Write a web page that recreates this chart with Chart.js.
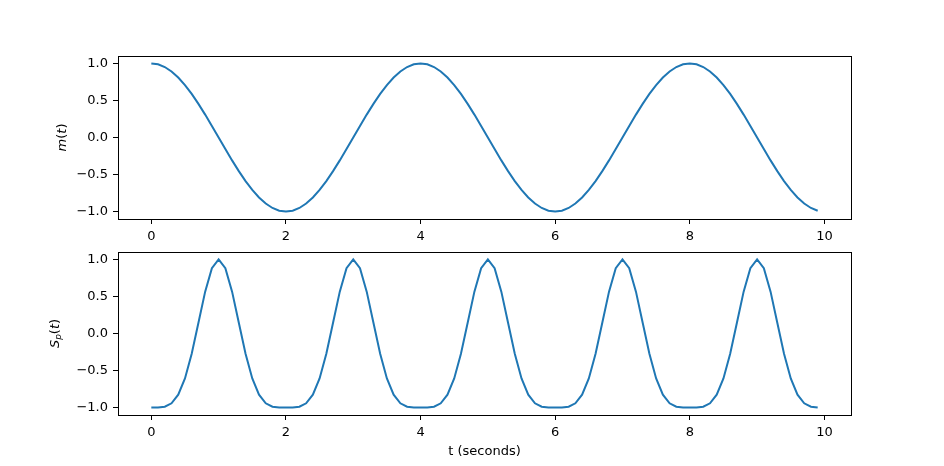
<!DOCTYPE html>
<html>
<head>
<meta charset="utf-8">
<script src="https://cdn.jsdelivr.net/npm/chart.js@4"></script>
<style>
  html, body { margin: 0; padding: 0; background: #fff; }
  .box { position: absolute; left: 0; top: 0; width: 944px; height: 466px; }
</style>
</head>
<body>
<div class="box"><canvas id="chartTop"></canvas></div>
<div class="box"><canvas id="chartBottom"></canvas></div>
<script>
// sample times (s)
const tValues = [
  0.0, 0.1, 0.2, 0.3, 0.4, 0.5, 0.6, 0.7, 0.8, 0.9,
  1.0, 1.1, 1.2, 1.3, 1.4, 1.5, 1.6, 1.7, 1.8, 1.9,
  2.0, 2.1, 2.2, 2.3, 2.4, 2.5, 2.6, 2.7, 2.8, 2.9,
  3.0, 3.1, 3.2, 3.3, 3.4, 3.5, 3.6, 3.7, 3.8, 3.9,
  4.0, 4.1, 4.2, 4.3, 4.4, 4.5, 4.6, 4.7, 4.8, 4.9,
  5.0, 5.1, 5.2, 5.3, 5.4, 5.5, 5.6, 5.7, 5.8, 5.9,
  6.0, 6.1, 6.2, 6.3, 6.4, 6.5, 6.6, 6.7, 6.8, 6.9,
  7.0, 7.1, 7.2, 7.3, 7.4, 7.5, 7.6, 7.7, 7.8, 7.9,
  8.0, 8.1, 8.2, 8.3, 8.4, 8.5, 8.6, 8.7, 8.8, 8.9,
  9.0, 9.1, 9.2, 9.3, 9.4, 9.5, 9.6, 9.7, 9.8, 9.9
];

// m(t), top panel
const mValues = [
  1.000, 0.988, 0.951, 0.891, 0.809, 0.707, 0.588, 0.454, 0.309, 0.156,
  0.000, -0.156, -0.309, -0.454, -0.588, -0.707, -0.809, -0.891, -0.951, -0.988,
  -1.000, -0.988, -0.951, -0.891, -0.809, -0.707, -0.588, -0.454, -0.309, -0.156,
  0.000, 0.156, 0.309, 0.454, 0.588, 0.707, 0.809, 0.891, 0.951, 0.988,
  1.000, 0.988, 0.951, 0.891, 0.809, 0.707, 0.588, 0.454, 0.309, 0.156,
  0.000, -0.156, -0.309, -0.454, -0.588, -0.707, -0.809, -0.891, -0.951, -0.988,
  -1.000, -0.988, -0.951, -0.891, -0.809, -0.707, -0.588, -0.454, -0.309, -0.156,
  0.000, 0.156, 0.309, 0.454, 0.588, 0.707, 0.809, 0.891, 0.951, 0.988,
  1.000, 0.988, 0.951, 0.891, 0.809, 0.707, 0.588, 0.454, 0.309, 0.156,
  0.000, -0.156, -0.309, -0.454, -0.588, -0.707, -0.809, -0.891, -0.951, -0.988
];

// S_p(t), bottom panel
const spValues = [
  -1.000, -0.999, -0.988, -0.942, -0.825, -0.606, -0.273, 0.144, 0.565, 0.882,
  1.000, 0.882, 0.565, 0.144, -0.273, -0.606, -0.825, -0.942, -0.988, -0.999,
  -1.000, -0.999, -0.988, -0.942, -0.825, -0.606, -0.273, 0.144, 0.565, 0.882,
  1.000, 0.882, 0.565, 0.144, -0.273, -0.606, -0.825, -0.942, -0.988, -0.999,
  -1.000, -0.999, -0.988, -0.942, -0.825, -0.606, -0.273, 0.144, 0.565, 0.882,
  1.000, 0.882, 0.565, 0.144, -0.273, -0.606, -0.825, -0.942, -0.988, -0.999,
  -1.000, -0.999, -0.988, -0.942, -0.825, -0.606, -0.273, 0.144, 0.565, 0.882,
  1.000, 0.882, 0.565, 0.144, -0.273, -0.606, -0.825, -0.942, -0.988, -0.999,
  -1.000, -0.999, -0.988, -0.942, -0.825, -0.606, -0.273, 0.144, 0.565, 0.882,
  1.000, 0.882, 0.565, 0.144, -0.273, -0.606, -0.825, -0.942, -0.988, -0.999
];

const xTicks = [0, 2, 4, 6, 8, 10];
const yTicks = [-1.0, -0.5, 0.0, 0.5, 1.0];
const yTickLabels = ['\u22121.0', '\u22120.5', '0.0', '0.5', '1.0'];

const FONT = "'DejaVu Sans', sans-serif";
const LINE_COLOR = '#1f77b4';

// draws a label made of pieces, rotated -90deg, centred on cy
function drawRotatedMath(ctx, parts, baseX, cy) {
  ctx.save();
  let total = 0;
  parts.forEach(p => {
    ctx.font = (p.italic ? 'italic ' : '') + p.size + 'px ' + FONT;
    p.w = ctx.measureText(p.text).width;
    total += p.w;
  });
  ctx.translate(baseX, cy);
  ctx.rotate(-Math.PI / 2);
  ctx.fillStyle = '#000';
  ctx.textBaseline = 'alphabetic';
  ctx.textAlign = 'left';
  let x = -total / 2;
  parts.forEach(p => {
    ctx.font = (p.italic ? 'italic ' : '') + p.size + 'px ' + FONT;
    ctx.fillText(p.text, x, p.shift || 0);
    x += p.w;
  });
  ctx.restore();
}

function framePlugin(yLabelParts, baseX, withXTitle) {
  return {
    id: 'frame',
    afterDraw(chart) {
      const ctx = chart.ctx;
      const a = chart.chartArea;
      ctx.save();
      ctx.strokeStyle = '#000';
      ctx.lineWidth = 1;
      ctx.strokeRect(Math.round(a.left) + 0.5, Math.round(a.top) + 0.5,
        Math.round(a.right - a.left), Math.round(a.bottom - a.top));
      ctx.restore();
      drawRotatedMath(ctx, yLabelParts, baseX, (a.top + a.bottom) / 2);
      if (withXTitle) {
        ctx.save();
        ctx.font = '13px ' + FONT;
        ctx.fillStyle = '#000';
        ctx.textAlign = 'center';
        ctx.textBaseline = 'middle';
        ctx.fillText('t (seconds)', (a.left + a.right) / 2, 452);
        ctx.restore();
      }
    }
  };
}

function makeChart(id, values, padTop, padBottom, yLabelParts, baseX, withXTitle) {
  return new Chart(document.getElementById(id), {
    type: 'line',
    data: {
      datasets: [{
        data: tValues.map((t, i) => ({ x: t, y: values[i] })),
        borderColor: LINE_COLOR,
        borderWidth: 2,
        pointRadius: 0,
        tension: 0,
        fill: false
      }]
    },
    options: {
      responsive: true,
      maintainAspectRatio: false,
      animation: false,
      events: [],
      layout: { padding: { top: padTop, bottom: padBottom, left: 0, right: 93 } },
      plugins: { legend: { display: false }, tooltip: { enabled: false } },
      scales: {
        x: {
          type: 'linear',
          min: -0.495,
          max: 10.395,
          afterBuildTicks: s => { s.ticks = xTicks.map(v => ({ value: v })); },
          afterFit: s => { s.height = 30; },
          grid: { drawOnChartArea: false, drawTicks: true, tickLength: 5, tickColor: '#000', tickWidth: 1 },
          border: { display: false },
          ticks: { color: '#000', font: { family: FONT, size: 13 }, padding: 5, maxRotation: 0,
            callback: v => String(v) }
        },
        y: {
          min: -1.1,
          max: 1.1,
          afterBuildTicks: s => { s.ticks = yTicks.map(v => ({ value: v })); },
          afterFit: s => { s.width = 118; },
          grid: { drawOnChartArea: false, drawTicks: true, tickLength: 5, tickColor: '#000', tickWidth: 1 },
          border: { display: false },
          ticks: { color: '#000', font: { family: FONT, size: 13 }, padding: 5,
            callback: v => yTickLabels[yTicks.indexOf(v)] }
        }
      }
    },
    plugins: [framePlugin(yLabelParts, baseX, withXTitle)]
  });
}

makeChart('chartTop', mValues, 56, 466 - 219 - 30, [
  { text: 'm', italic: true, size: 13 },
  { text: '(', italic: false, size: 13 },
  { text: 't', italic: true, size: 13 },
  { text: ')', italic: false, size: 13 }
], 65.5, false);

makeChart('chartBottom', spValues, 252, 466 - 415 - 30, [
  { text: 'S', italic: true, size: 13 },
  { text: 'p', italic: true, size: 9, shift: 2 },
  { text: '(', italic: false, size: 13 },
  { text: 't', italic: true, size: 13 },
  { text: ')', italic: false, size: 13 }
], 59, true);
</script>
</body>
</html>
